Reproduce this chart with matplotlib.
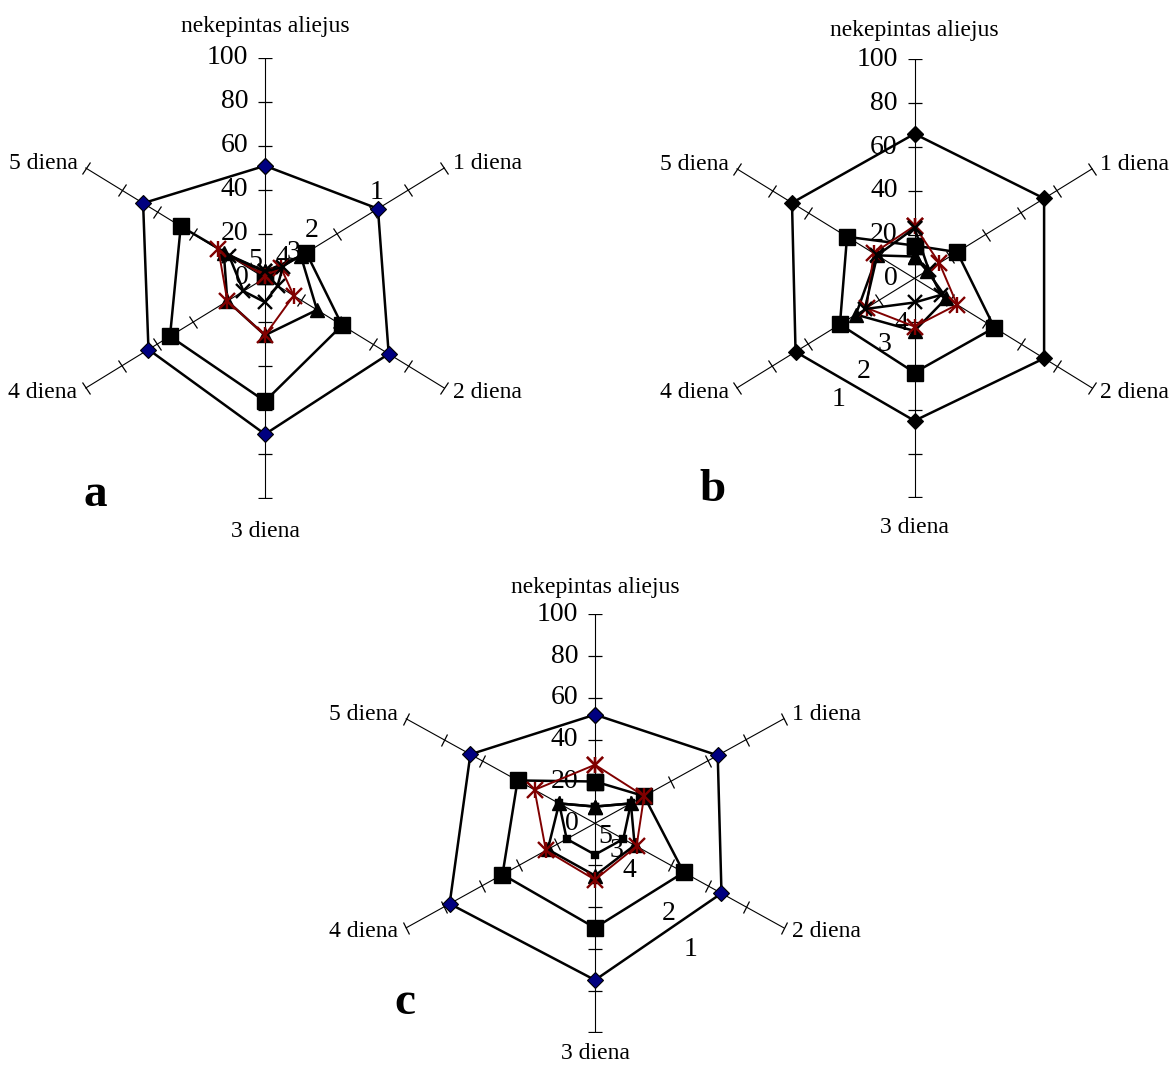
import matplotlib.pyplot as plt
import numpy as np
from matplotlib.markers import MarkerStyle
from matplotlib.transforms import Affine2D

plt.rcParams['font.family'] = ['Liberation Serif', 'DejaVu Serif']

# ---- data ----
axis_names = ["nekepintas aliejus", "1 diena", "2 diena", "3 diena", "4 diena", "5 diena"]
value_ticks = [0, 20, 40, 60, 80, 100]

a_s1 = [51, 63, 69, 71, 65, 68]
a_s2 = [1, 23, 43, 56, 53, 47]
a_s3 = [3, 20, 29, 26, 21, 23]
a_s4 = [1, 9, 16, 26, 21, 26]
a_s5 = [3, 10, 7, 11, 12, 20]

b_s1 = [66, 73, 73, 65, 67, 69]
b_s2 = [15, 24, 45, 43, 42, 38]
b_s3 = [10, 7, 18, 24, 33, 21]
b_s4 = [24, 14, 24, 22, 27, 23]
b_s5 = [23, 8, 15, 11, 28, 21]

c_s1 = [52, 65, 67, 75, 77, 66]
c_s2 = [20, 26, 47, 50, 49, 41]
c_s3 = [8, 19, 21, 25, 25, 19]
c_s4 = [28, 26, 22, 27, 26, 32]
c_s5 = [8, 19, 15, 15, 15, 19]

# series name labels placed next to the curves (data coords)
a_names = ["1", "2", "3", "4", "5"]
a_name_xy = [(54, 39), (22.6, 21.8), (14, 11.5), (8.2, 9.2), (-4.8, 8)]
b_names = ["1", "2", "3", "4"]
b_name_xy = [(-37.2, -55.5), (-25, -42.3), (-14.4, -30.1), (-6.2, -20.5)]
c_names = ["1", "2", "3", "4", "5"]
c_name_xy = [(43.6, -60.3), (33.6, -43.1), (10, -12.8), (15.7, -22.7), (4.6, -6.4)]

W, H = 1173, 1066
fig = plt.figure(figsize=(W / 100, H / 100), dpi=100)

angles = np.deg2rad(np.arange(6) * 60)
red = '#800000'


def styles(diamond_color, last_marker, last_ms):
    return [
        dict(color='black', lw=1.8, marker='D', ms=8, mfc=diamond_color, mec='black', mew=0.8),
        dict(color='black', lw=1.8, marker='s', ms=11, mfc='black', mec='black'),
        dict(color='black', lw=1.8, marker='^', ms=9.5, mfc='black', mec='black'),
        dict(color=red, lw=1.4, marker='x', ms=11, mew=1.7),
        dict(color='black', lw=1.8, marker=last_marker, ms=last_ms, mew=1.7, mfc='black', mec='black'),
    ]


def radar(center, sx, sy, series, sty, names, name_xy, top_off, bottom_off):
    cx, cy = center
    ax = fig.add_axes([(cx - 100 * sx) / W, (H - cy - 100 * sy) / H, 200 * sx / W, 200 * sy / H])
    ax.set_xlim(-100, 100)
    ax.set_ylim(-100, 100)
    ax.axis('off')

    r = np.array(value_ticks[1:])
    for th in angles:
        ax.plot([0, 100 * np.sin(th)], [0, 100 * np.cos(th)], color='black', lw=0.8, zorder=1)
        # tick marks perpendicular to the axis on screen
        phi = np.degrees(np.arctan2(np.cos(th) * sy, np.sin(th) * sx))
        m = MarkerStyle('_', transform=Affine2D().rotate_deg(phi + 90))
        ax.plot(r * np.sin(th), r * np.cos(th), ls='none', marker=m, ms=10, mew=0.9,
                color='black', zorder=1)

    # value axis labels on the top axis
    for t in value_ticks:
        ax.annotate(str(t), (0, t), xytext=(-12, 0), textcoords='offset points',
                    ha='right', va='center', fontsize=20, zorder=1)

    # category labels
    offs = [(0, top_off), (6, 3), (6, -3), (0, -bottom_off), (-6, -3), (-6, 3)]
    has = ['center', 'left', 'left', 'center', 'right', 'right']
    for name, th, off, ha in zip(axis_names, angles, offs, has):
        ax.annotate(name, (100 * np.sin(th), 100 * np.cos(th)), xytext=off,
                    textcoords='offset points', ha=ha, va='center', fontsize=17,
                    annotation_clip=False)

    for vals, st in zip(series, sty):
        v = np.append(vals, vals[0])
        a = np.append(angles, angles[0])
        ax.plot(v * np.sin(a), v * np.cos(a), zorder=3, clip_on=False, **st)
        if st['color'] == red:
            ax.plot(v * np.sin(a), v * np.cos(a), ls='none', marker='|', ms=11, mew=1.7,
                    color=red, zorder=3, clip_on=False)

    for n, (x, y) in zip(names, name_xy):
        ax.text(x, y, n, ha='center', va='center', fontsize=20, zorder=2)
    return ax


radar((265, 278), 2.07, 2.2, [a_s1, a_s2, a_s3, a_s4, a_s5],
      styles('#000080', 'x', 10), a_names, a_name_xy, 23, 24)
radar((914.5, 278.4), 2.05, 2.19, [b_s1, b_s2, b_s3, b_s4, b_s5],
      styles('black', 'x', 10), b_names, b_name_xy, 21, 22)
radar((595, 823.3), 2.18, 2.09, [c_s1, c_s2, c_s3, c_s4, c_s5],
      styles('#000080', 's', 5), c_names, c_name_xy, 19, 15)

fig.text(95 / W, 1 - 495 / H, 'a', fontsize=34, fontweight='bold', ha='center', va='center')
fig.text(712 / W, 1 - 490 / H, 'b', fontsize=34, fontweight='bold', ha='center', va='center')
fig.text(405 / W, 1 - 1003 / H, 'c', fontsize=34, fontweight='bold', ha='center', va='center')

fig.savefig('out.png', dpi=100)
